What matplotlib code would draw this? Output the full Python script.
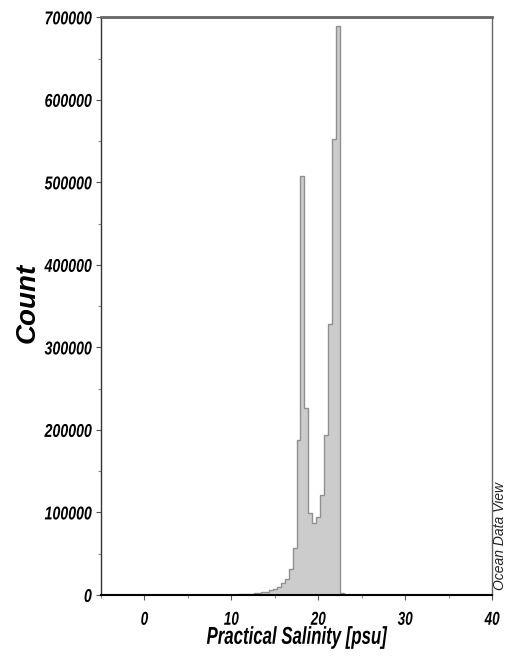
import matplotlib
matplotlib.use("Agg")
import matplotlib.pyplot as plt
from matplotlib.ticker import MultipleLocator
from matplotlib.patheffects import AbstractPathEffect
from matplotlib.transforms import Affine2D

# histogram bins (left edges, width 0.45 psu) and counts
bin_width = 0.45
bin_left = [10.3, 10.75, 11.2, 11.65, 12.1, 12.55, 13.0, 13.45, 13.9, 14.35,
            14.8, 15.25, 15.7, 16.15, 16.6, 17.05, 17.5, 17.95, 18.4, 18.85,
            19.3, 19.75, 20.2, 20.65, 21.1, 21.55, 22.0, 22.45]
counts = [500, 800, 1000, 1200, 1500, 2000, 2500, 3000, 4000, 5500,
          7500, 10000, 14000, 19000, 31000, 56500, 188000, 508000, 226000, 99000,
          87500, 94000, 121000, 193500, 328000, 552000, 690000, 2500]

xticks = [0, 10, 20, 30, 40]
yticks = [0, 100000, 200000, 300000, 400000, 500000, 600000, 700000]


class Tall(AbstractPathEffect):
    """Stretch glyphs vertically, so a small font looks like a narrow one."""

    def __init__(self, sy=1.3, anchor='baseline'):
        super().__init__()
        self.sy = sy
        self.anchor = anchor

    def draw_path(self, renderer, gc, tpath, affine, rgbFace=None):
        if self.anchor == 'center':
            ext = tpath.get_extents()
            y0 = (ext.y0 + ext.y1) / 2
        else:
            y0 = 0.0
        stretch = Affine2D().translate(0, -y0).scale(1, self.sy).translate(0, y0)
        renderer.draw_path(gc, tpath, stretch + affine, rgbFace)


font = ['Liberation Sans', 'DejaVu Sans']

fig = plt.figure(figsize=(5.1, 6.64), dpi=100)
ax = fig.add_axes([0.198, 0.104, 0.767, 0.870])

edges = bin_left + [bin_left[-1] + bin_width]
ax.stairs(counts, edges, fill=True, color='#cccccc')
ax.stairs(counts, edges, fill=False, color='#909090', linewidth=1.0)

ax.set_xlim(-5, 40)
ax.set_ylim(0, 700000)

ax.set_xticks(xticks)
ax.set_yticks(yticks)
ax.xaxis.set_minor_locator(MultipleLocator(5))
ax.yaxis.set_minor_locator(MultipleLocator(50000))
ax.set_xticklabels([str(t) for t in xticks])
ax.set_yticklabels([str(t) for t in yticks])

ax.tick_params(axis='both', which='major', direction='out', length=3.6,
               width=0.8, color='#555555')
ax.tick_params(axis='both', which='minor', direction='out', length=2.2,
               width=0.8, color='#888888')
ax.tick_params(axis='x', which='major', pad=11.4, labelsize=9.7)
ax.tick_params(axis='y', which='major', pad=3, labelsize=10.2)
for lab in ax.get_xticklabels():
    lab.set_path_effects([Tall(1.39, 'baseline')])
for lab in ax.get_yticklabels():
    lab.set_path_effects([Tall(1.31, 'center')])
for lab in ax.get_xticklabels() + ax.get_yticklabels():
    lab.set_family(font)
    lab.set_fontweight('bold')
    lab.set_fontstyle('italic')

ax.spines['left'].set_color('#333333')
ax.spines['left'].set_linewidth(1.0)
ax.spines['bottom'].set_color('black')
ax.spines['bottom'].set_linewidth(1.5)
ax.spines['top'].set_color('#666666')
ax.spines['top'].set_linewidth(2.0)
ax.spines['right'].set_color('#666666')
ax.spines['right'].set_linewidth(1.0)

xl = ax.set_xlabel('Practical Salinity [psu]', family=font, fontsize=12.1,
                   fontweight='bold', fontstyle='italic', labelpad=2.9)
xl.set_path_effects([Tall(1.45, 'baseline')])

fig.text(28 / 510, 1 - 303 / 664, 'Count', rotation=90, ha='center', va='center',
         family=font, fontsize=20, fontweight='bold', fontstyle='italic')

fig.text(0.980, 0.111, 'Ocean Data View', rotation=90, ha='center', va='bottom',
         family=font, fontsize=10, fontstyle='italic', color='#222222')

plt.savefig('out.png', dpi=100)
